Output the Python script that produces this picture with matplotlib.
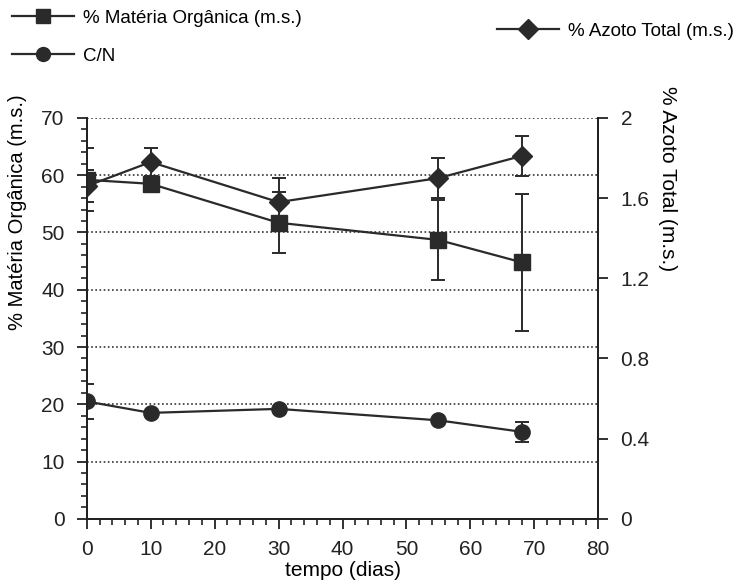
import matplotlib.pyplot as plt
from matplotlib.ticker import MultipleLocator
from matplotlib.lines import Line2D

plt.rcParams["font.family"] = ["Liberation Sans", "DejaVu Sans"]

# data
tempo = [0, 10, 30, 55, 68]
materia_organica = [59.2, 58.5, 51.7, 48.7, 44.8]
materia_organica_err = [5.5, 0.0, 5.3, 7.0, 12.0]
cn = [20.5, 18.5, 19.2, 17.2, 15.2]
cn_err = [3.0, 0.0, 0.0, 0.0, 1.7]
azoto_total = [1.66, 1.78, 1.58, 1.70, 1.81]
azoto_total_err = [0.08, 0.07, 0.12, 0.10, 0.10]

fig = plt.figure(figsize=(7.35, 5.81), dpi=100)
ax = fig.add_axes([0.118, 0.107, 0.696, 0.690])
ax2 = ax.twinx()

style = dict(color="#2a2a2a", lw=1.6, markersize=11, capsize=5, elinewidth=1.4, capthick=1.4)
ax.errorbar(tempo, materia_organica, yerr=materia_organica_err, marker="s", **style)
ax.errorbar(tempo, cn, yerr=cn_err, marker="o", **style)
ax2.errorbar(tempo, azoto_total, yerr=azoto_total_err, marker="D", **dict(style, markersize=10))

ax.set_xlim(0, 80)
ax.set_ylim(0, 70)
ax2.set_ylim(0, 2)

ax.xaxis.set_major_locator(MultipleLocator(10))
ax.xaxis.set_minor_locator(MultipleLocator(2))
ax.yaxis.set_major_locator(MultipleLocator(10))
ax.yaxis.set_minor_locator(MultipleLocator(2))
ax2.set_yticks([0, 0.4, 0.8, 1.2, 1.6, 2])
ax2.set_yticklabels(["0", "0.4", "0.8", "1.2", "1.6", "2"])

for a in (ax, ax2):
    a.spines["top"].set_visible(False)
    a.tick_params(which="major", direction="out", length=7, width=1.3, labelsize=15,
                  colors="#222222", pad=9)
    a.tick_params(which="minor", direction="out", length=4, width=1.2, colors="#222222")
    for s in a.spines.values():
        s.set_linewidth(1.4)
        s.set_color("#222222")
ax.tick_params(axis="x", which="major", pad=8)

for yv in range(10, 71, 10):
    ax.axhline(yv, color="#333333", lw=1.2, ls=(0, (1, 1.5)), zorder=0)

ax.set_xlabel("tempo (dias)", fontsize=15, labelpad=2)
ax.set_ylabel("% Matéria Orgânica (m.s.)", fontsize=14.5)
ax.yaxis.set_label_coords(-0.117, 0.765)
ax2.set_ylabel("% Azoto Total (m.s.)", fontsize=15, rotation=270, va="center")
ax2.yaxis.set_label_coords(1.135, 0.85)

h_mo = Line2D([], [], color="#2a2a2a", lw=1.6, marker="s", markersize=10)
h_cn = Line2D([], [], color="#2a2a2a", lw=1.6, marker="o", markersize=10)
h_at = Line2D([], [], color="#2a2a2a", lw=1.6, marker="D", markersize=10)
fig.legend([h_mo, h_cn], ["% Matéria Orgânica (m.s.)", "C/N"], loc="upper left",
           bbox_to_anchor=(-0.007, 1.012), frameon=False, fontsize=13.5, handlelength=3.3,
           handletextpad=0.5, labelspacing=1.1)
fig.legend([h_at], ["% Azoto Total (m.s.)"], loc="upper right", bbox_to_anchor=(1.022, 0.99),
           frameon=False, fontsize=13.5, handlelength=3.3, handletextpad=0.5)

fig.savefig("out.png", dpi=100)
